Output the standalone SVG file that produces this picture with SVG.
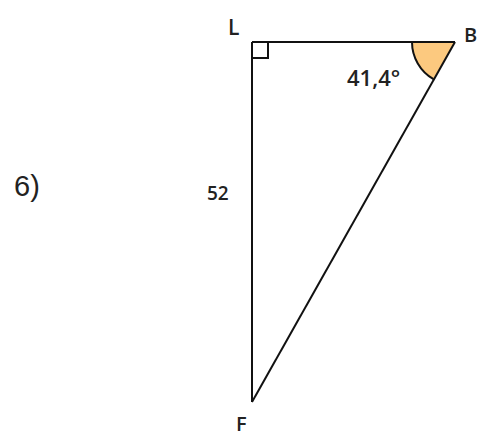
<svg xmlns="http://www.w3.org/2000/svg" width="480" height="438" viewBox="0 0 480 438">
<style>
.lbl{font-family:"Open Sans","Liberation Sans",sans-serif;fill:#222;font-weight:600}
.edge{stroke:#111;stroke-width:2;fill:none}
</style>
<rect width="480" height="438" fill="#fff"/>
<text x="14" y="196" font-size="29" font-family="Liberation Sans, Arial, sans-serif" fill="#222">6)</text>
<g id="connectors">
<path id="angle-B" d="M455,42 L412,42 A43,43 0 0 0 433.5,79.2 Z" fill="#fcc97f" stroke="none"/>
<path d="M412,42 A43,43 0 0 0 433.5,79.2" class="edge" stroke-width="1.8"/>
<line class="edge" x1="252" y1="42" x2="455" y2="42"/>
<line class="edge" x1="252" y1="42" x2="252" y2="402"/>
<line class="edge" x1="455" y1="42" x2="252" y2="402"/>
<path d="M252,58 H268 V42" class="edge" stroke-width="1.6"/>
</g>
<g id="node-L"><text class="lbl" x="228" y="35" font-size="21">L</text></g>
<g id="node-B"><text class="lbl" x="464" y="42" font-size="20">B</text></g>
<g id="node-F"><text class="lbl" x="236" y="431" font-size="20">F</text></g>
<text class="lbl" x="347" y="86" font-size="22">41,4°</text>
<text class="lbl" x="207" y="200" font-size="19">52</text>
</svg>
